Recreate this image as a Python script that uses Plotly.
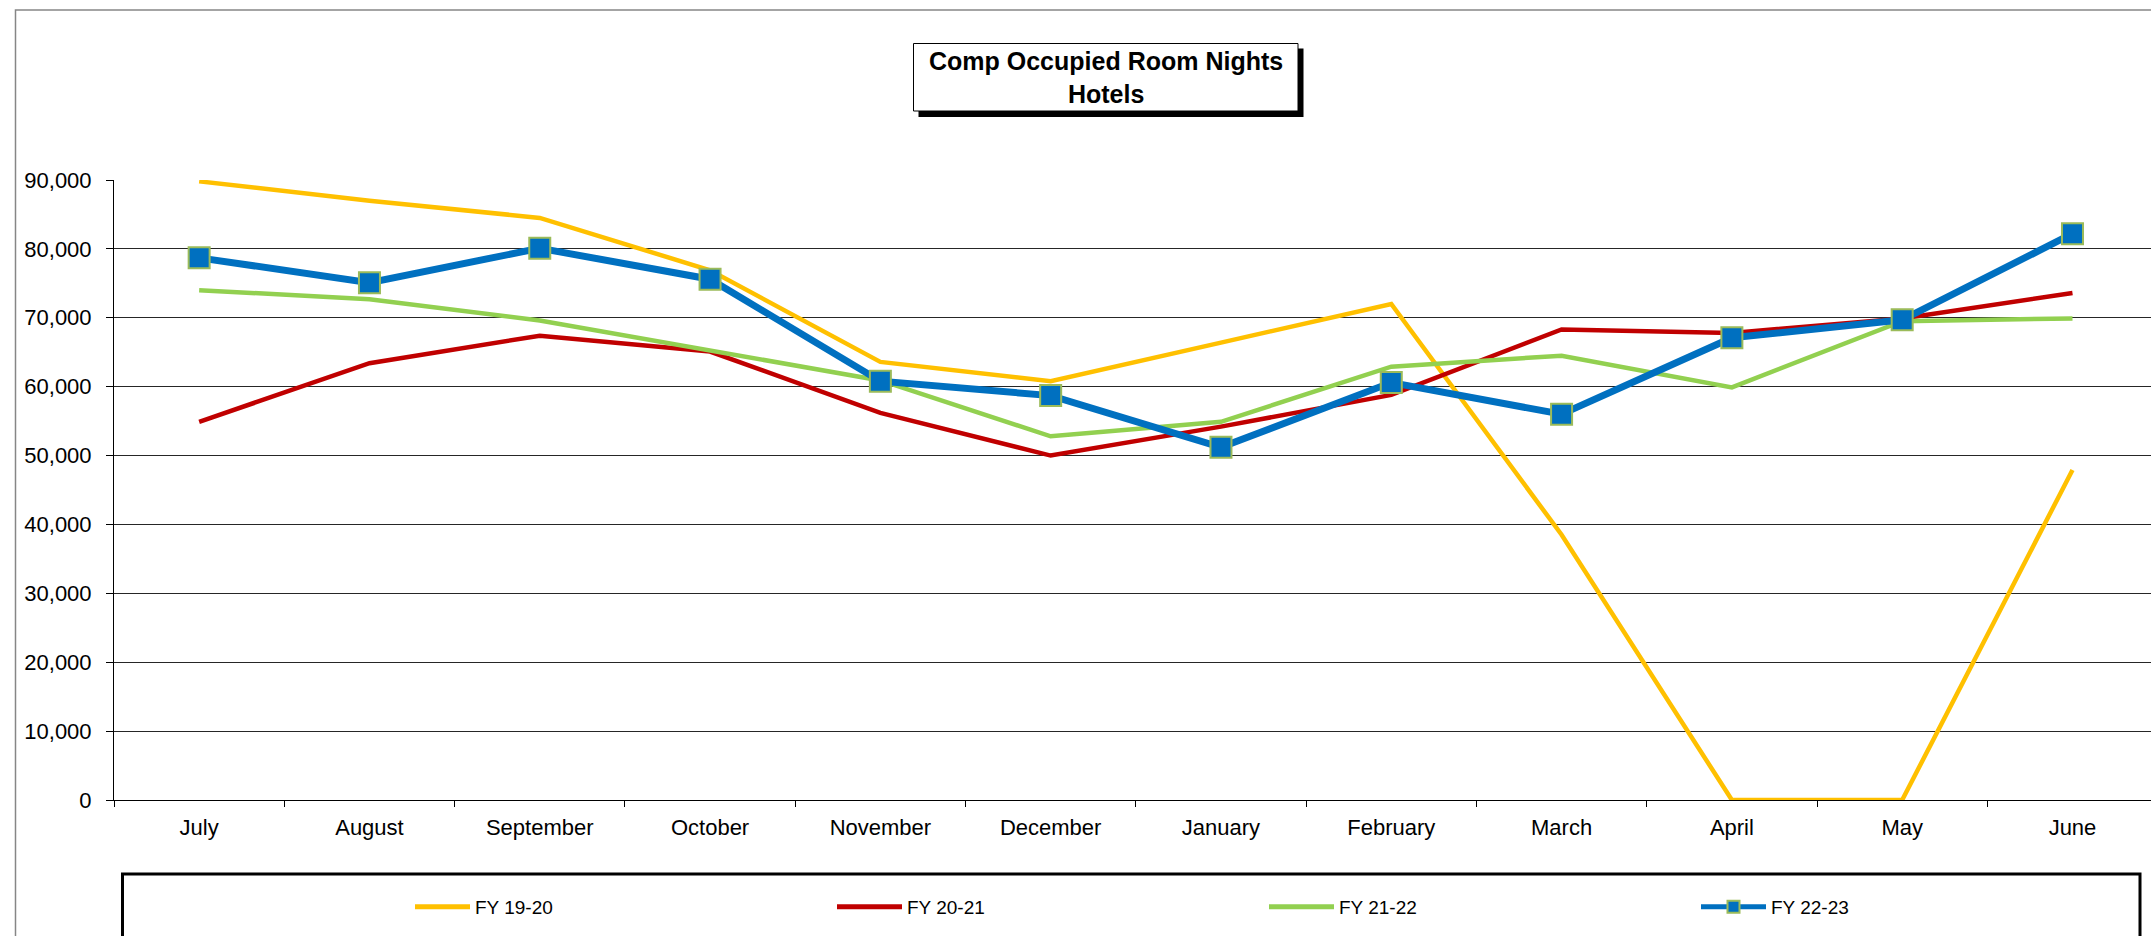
import plotly.graph_objects as go

# Monthly comp occupied room nights by fiscal year
months = ["July", "August", "September", "October", "November", "December",
          "January", "February", "March", "April", "May", "June"]
fy_19_20 = [89800, 87000, 84500, 76900, 63600, 60800, 66400, 72000, 38500, 0, 0, 47900]
fy_20_21 = [54900, 63400, 67400, 65100, 56200, 50000, 54200, 58800, 68300, 67800, 69900, 73600]
fy_21_22 = [74000, 72700, 69600, 65300, 60900, 52800, 54900, 62900, 64500, 59900, 69500, 69900]
fy_22_23 = [78700, 75100, 80100, 75600, 60800, 58700, 51200, 60600, 56000, 67100, 69700, 82200]

series_names = ["FY 19-20", "FY 20-21", "FY 21-22", "FY 22-23"]
y_ticks = list(range(0, 90001, 10000))

W, H = 2151, 936
ML, MR, MT, MB = 114, 0, 180, 136
PW, PH = W - ML - MR, H - MT - MB


def px(x):
    """pixel x -> paper x"""
    return (x - ML) / PW


def py(y):
    """pixel y -> paper y"""
    return (H - MB - y) / PH


FONT = "Liberation Sans, Arial, sans-serif"

fig = go.Figure()
fig.add_trace(go.Scatter(x=months, y=fy_19_20, name=series_names[0], mode="lines",
                         line=dict(color="#FFC000", width=4.5)))
fig.add_trace(go.Scatter(x=months, y=fy_20_21, name=series_names[1], mode="lines",
                         line=dict(color="#C00000", width=4.5)))
fig.add_trace(go.Scatter(x=months, y=fy_21_22, name=series_names[2], mode="lines",
                         line=dict(color="#92D050", width=4.5)))
fig.add_trace(go.Scatter(x=months, y=fy_22_23, name=series_names[3], mode="lines+markers",
                         line=dict(color="#0070C0", width=7),
                         marker=dict(symbol="square", size=21, color="#0070C0",
                                     line=dict(color="#9BBB59", width=2))))

shapes = [
    # outer chart frame
    dict(type="rect", xref="paper", yref="paper", layer="below",
         x0=px(15.5), x1=px(2300), y0=py(10), y1=py(1100),
         line=dict(color="#868686", width=1.5), fillcolor="rgba(0,0,0,0)"),
    # legend frame
    dict(type="rect", xref="paper", yref="paper", layer="above",
         x0=px(122.5), x1=px(2140), y0=py(874), y1=py(1100),
         line=dict(color="#000000", width=3), fillcolor="rgba(0,0,0,0)"),
    # title box shadow
    dict(type="rect", xref="paper", yref="paper", layer="above",
         x0=px(918.5), x1=px(1303.5), y0=py(48.5), y1=py(117),
         line=dict(width=0), fillcolor="#000000"),
    # title box
    dict(type="rect", xref="paper", yref="paper", layer="above",
         x0=px(913.5), x1=px(1298), y0=py(43.5), y1=py(111),
         line=dict(color="#000000", width=1), fillcolor="#FFFFFF"),
]

fig.update_layout(
    width=W, height=H,
    margin=dict(l=ML, r=MR, t=MT, b=MB, pad=0, autoexpand=False),
    paper_bgcolor="#FFFFFF", plot_bgcolor="#FFFFFF",
    font=dict(family=FONT, color="#000000", size=22),
    showlegend=True,
    legend=dict(orientation="h", xref="container", yref="container",
                x=415 / W, xanchor="left", y=1 - 907 / H, yanchor="middle",
                entrywidth=367, entrywidthmode="pixels", itemwidth=65,
                indentation=-15,
                itemsizing="constant", font=dict(size=19, family=FONT),
                bgcolor="rgba(0,0,0,0)", borderwidth=0, traceorder="normal"),
    shapes=shapes,
    annotations=[dict(text="<b>Comp Occupied Room Nights<br>Hotels</b>",
                      xref="paper", yref="paper", x=px(1106), y=py(77.3),
                      xanchor="center", yanchor="middle", showarrow=False,
                      font=dict(size=25, family=FONT, color="#000000"))],
    xaxis=dict(type="category", categoryorder="array", categoryarray=months,
               range=[-0.5, 11.461], tickson="boundaries", ticks="outside",
               ticklen=6, tickcolor="#000000", showline=True, linecolor="#000000",
               linewidth=1, showgrid=False, zeroline=False,
               tickfont=dict(size=22), ticklabelstandoff=8),
    yaxis=dict(range=[0, 90000], tickvals=y_ticks, tickformat=",", ticks="outside",
               ticklen=7, tickcolor="#000000", showline=True, linecolor="#000000",
               linewidth=1, showgrid=True, gridcolor="#262626", gridwidth=1,
               zeroline=False, tickfont=dict(size=22), ticklabelstandoff=10),
)

fig.write_html("out.html")
